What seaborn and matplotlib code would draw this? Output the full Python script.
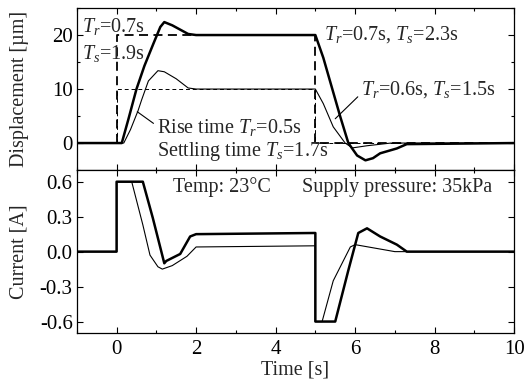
import numpy as np
import matplotlib
matplotlib.use("Agg")
import matplotlib.pyplot as plt
from matplotlib.ticker import MultipleLocator, FormatStrFormatter
import seaborn as sns

############################################################
# DATA
############################################################

# displacement response, 20 um step (thick)
disp_big_t = [-1, 0.13, 0.3, 0.5, 0.7, 0.92, 1.1, 1.2, 1.4, 1.6, 1.8, 2.0,
              5.0, 5.2, 5.63, 5.83, 6.05, 6.26, 6.45, 6.63, 7.05, 7.3, 10]
disp_big_y = [0, 0, 4.5, 10, 14.3, 18.3, 21.5, 22.4, 21.8, 21.0, 20.2, 20,
              20, 15.8, 4.8, 0, -2.3, -3.2, -2.8, -1.9, -1.0, -0.2, 0]

# displacement response, 10 um step (thin)
disp_small_t = [-1, 0.18, 0.35, 0.54, 0.63, 0.8, 1.04, 1.2, 1.5, 1.8, 2.0,
                5.0, 5.2, 5.45, 5.75, 5.93, 6.3, 6.9, 10]
disp_small_y = [0, 0, 2.5, 6, 8, 11.5, 13.4, 13.2, 11.9, 10.2, 10,
                10, 7.3, 3, 0, -0.9, -0.5, 0, 0]

# reference (dashed) inputs
ref_t = [0, 0, 5, 5, 10]
ref_big = [0, 20, 20, 0, 0]
ref_small = [0, 10, 10, 0, 0]

# valve current (thick / thin)
cur_big_t = [-1, 0, 0, 0.66, 0.91, 1.2, 1.25, 1.6, 1.85, 2.0, 5.0, 5.0,
             5.5, 5.83, 6.08, 6.3, 6.63, 7.05, 7.3, 10]
cur_big_y = [0, 0, 0.6, 0.6, 0.29, -0.1, -0.08, -0.02, 0.13, 0.15, 0.16, -0.6,
             -0.6, -0.16, 0.16, 0.2, 0.13, 0.06, 0.0, 0.0]

cur_small_t = [-1, 0, 0, 0.38, 0.66, 0.84, 1.04, 1.15, 1.4, 1.77, 2.0, 5.0, 5.0,
               5.17, 5.45, 5.88, 6.0, 7.0, 10]
cur_small_y = [0, 0, 0.6, 0.6, 0.23, -0.03, -0.13, -0.15, -0.12, -0.04, 0.04, 0.05, -0.6,
               -0.6, -0.25, 0.04, 0.06, 0.0, 0.0]

############################################################
# STYLE
############################################################

sns.set_style("ticks")
plt.rcParams['font.family'] = ['Liberation Serif', 'DejaVu Serif']
plt.rcParams['mathtext.fontset'] = 'custom'
plt.rcParams['mathtext.rm'] = 'Liberation Serif'
plt.rcParams['mathtext.it'] = 'Liberation Serif:italic'
plt.rcParams['axes.unicode_minus'] = False
plt.rcParams['axes.edgecolor'] = 'black'
plt.rcParams['axes.linewidth'] = 0.9
plt.rcParams['xtick.color'] = 'black'
plt.rcParams['ytick.color'] = 'black'

FS = 14.5      # annotation / label size
TS = 15        # tick label size

fig = plt.figure(figsize=(5.3, 3.83), dpi=100)
ax1 = fig.add_axes([0.145, 0.556, 0.825, 0.423])
ax2 = fig.add_axes([0.145, 0.130, 0.825, 0.426], sharex=ax1)


def line(ax, t, y, lw, ls='-'):
    sns.lineplot(x=t, y=y, ax=ax, color='black', lw=lw, ls=ls,
                 estimator=None, sort=False)


############################################################
# DISPLACEMENT
############################################################

line(ax1, ref_t, ref_big, 1.3, (0, (5, 3)))
line(ax1, ref_t, ref_small, 0.7, (0, (4, 3)))
line(ax1, disp_small_t, disp_small_y, 0.8)
line(ax1, disp_big_t, disp_big_y, 1.8)

ax1.set_ylim(-5, 25)
ax1.yaxis.set_major_locator(MultipleLocator(10))
ax1.yaxis.set_minor_locator(MultipleLocator(5))
ax1.set_ylabel("Displacement [µm]", fontsize=FS)

ax1.text(-0.88, 20.6, r"$T_r$=0.7s", fontsize=FS, va='baseline')
ax1.text(-0.88, 15.5, r"$T_s$=1.9s", fontsize=FS, va='baseline')
ax1.text(5.22, 19.2, r"$T_r$=0.7s, $T_s$=2.3s", fontsize=FS, va='baseline')
ax1.annotate(r"$T_r$=0.6s, $T_s$=1.5s", xy=(5.5, 4.5), xytext=(6.15, 9.0),
             fontsize=FS, va='baseline',
             arrowprops=dict(arrowstyle='-', lw=0.8, color='black',
                             shrinkA=0, shrinkB=0, relpos=(0, 0.3)))
ax1.annotate(r"Rise time $T_r$=0.5s", xy=(0.52, 5.8), xytext=(1.01, 1.8),
             fontsize=FS, va='baseline',
             arrowprops=dict(arrowstyle='-', lw=0.8, color='black',
                             shrinkA=0, shrinkB=0, relpos=(0, 0.6)))
ax1.text(1.01, -2.4, r"Settling time $T_s$=1.7s", fontsize=FS, va='baseline')

############################################################
# CURRENT
############################################################

line(ax2, cur_small_t, cur_small_y, 0.8)
line(ax2, cur_big_t, cur_big_y, 1.8)

ax2.set_ylim(-0.7, 0.7)
ax2.yaxis.set_major_locator(MultipleLocator(0.3))
ax2.yaxis.set_major_formatter(FormatStrFormatter('%.1f'))
ax2.set_ylabel("Current [A]", fontsize=FS)
ax2.set_xlabel("Time [s]", fontsize=FS, labelpad=1)

ax2.text(1.42, 0.51, "Temp: 23°C", fontsize=FS, va='baseline')
ax2.text(4.67, 0.51, "Supply pressure: 35kPa", fontsize=FS, va='baseline')

############################################################
# AXES / TICKS
############################################################

ax1.set_xlim(-1, 10)
for ax in (ax1, ax2):
    ax.xaxis.set_major_locator(MultipleLocator(2))
    ax.xaxis.set_minor_locator(MultipleLocator(1))
    ax.tick_params(which='both', direction='in', top=True, right=True,
                   labelsize=TS, width=0.8, pad=3)
    ax.tick_params(which='major', length=4)
    ax.tick_params(which='minor', length=2.5)
    ax.yaxis.set_label_coords(-0.11, 0.5)
ax2.tick_params(axis='x', pad=5)
ax1.tick_params(labelbottom=False)
ax1.set_xlabel("")

fig.savefig("out.png", dpi=100)
